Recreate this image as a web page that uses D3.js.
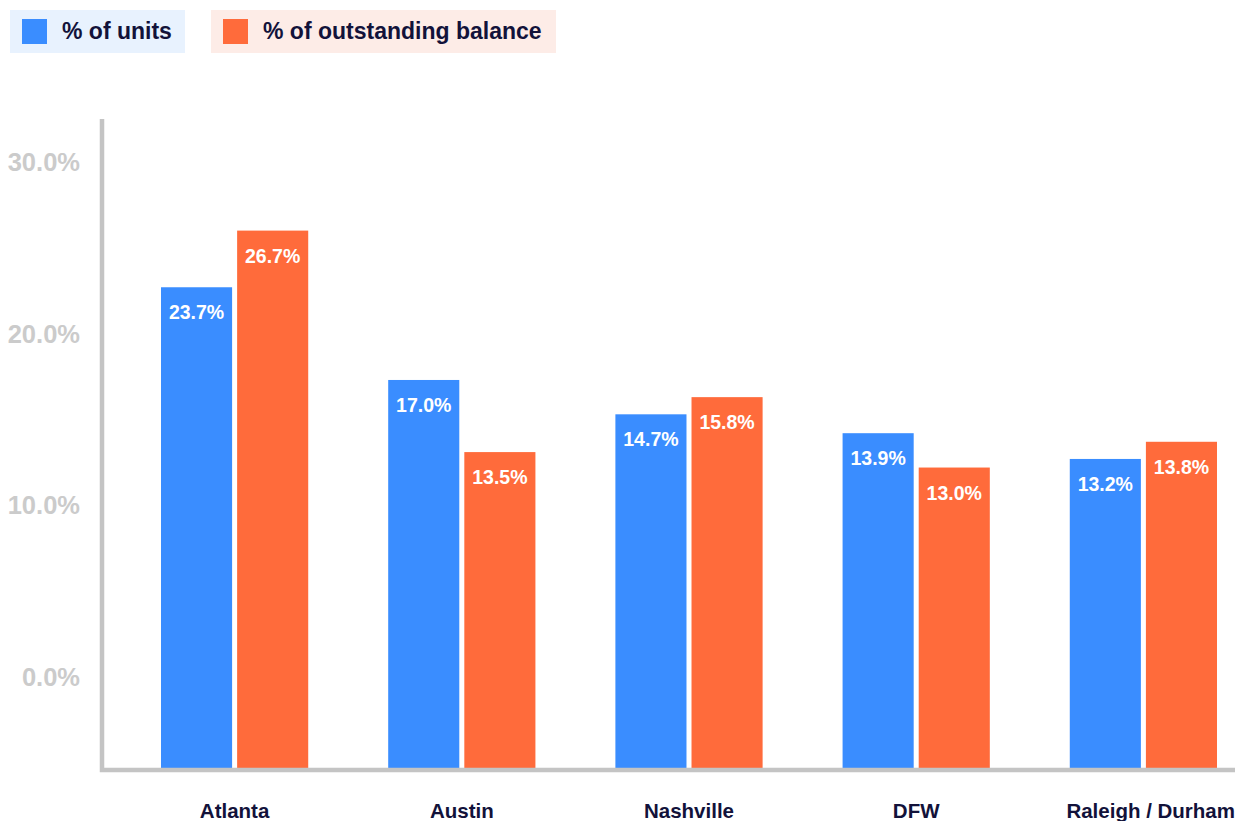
<!DOCTYPE html>
<html>
<head>
<meta charset="utf-8">
<script src="https://cdn.jsdelivr.net/npm/d3@7"></script>
<style>
  html, body { margin: 0; padding: 0; background: #fff; }
  svg { display: block; font-family: 'Liberation Sans', Arial, sans-serif; }
</style>
</head>
<body>
<div id="bar-chart"></div>
<script>
// Data
const cities = ['Atlanta', 'Austin', 'Nashville', 'DFW', 'Raleigh / Durham'];
const seriesNames = ['% of units', '% of outstanding balance'];
// bar heights as drawn, read against the y axis
const unitsBars = [22.7, 17.3, 15.3, 14.2, 12.7];
const balanceBars = [26.0, 13.1, 16.3, 12.2, 13.7];
// value labels as printed on the bars
const unitsLabels = ['23.7%', '17.0%', '14.7%', '13.9%', '13.2%'];
const balanceLabels = ['26.7%', '13.5%', '15.8%', '13.0%', '13.8%'];
const yTicks = [0, 10, 20, 30];

// Dimensions
const WIDTH = 1235;
const HEIGHT = 821;
const PLOT = { LEFT: 102, RIGHT: 1235, TOP: 119, BOTTOM: 770 };

const COLORS = ['#3a8dff', '#ff6b3b'];
const LEGEND_BG = ['#e8f2fe', '#fdece7'];
const INK = '#12123a';

const svg = d3
  .select('#bar-chart')
  .append('svg')
  .attr('width', WIDTH)
  .attr('height', HEIGHT);

// Scales
const y = d3.scaleLinear().domain([-5.3, 32.5]).range([768, PLOT.TOP]);

const x0 = d3
  .scaleBand()
  .domain(cities)
  .range([161, 1217])
  .paddingInner(0.352)
  .paddingOuter(0);

const x1 = d3
  .scaleBand()
  .domain([0, 1])
  .range([0, x0.bandwidth()])
  .paddingInner(0.066);

const rows = cities.map((c, i) => ({
  city: c,
  vals: [
    { s: 0, v: unitsBars[i], label: unitsLabels[i] },
    { s: 1, v: balanceBars[i], label: balanceLabels[i] },
  ],
}));

// Y axis labels
svg
  .append('g')
  .selectAll('text')
  .data(yTicks)
  .join('text')
  .attr('x', 80)
  .attr('y', (d) => y(d))
  .attr('dy', '0.36em')
  .attr('text-anchor', 'end')
  .attr('fill', '#cbcbcb')
  .attr('font-size', 25.5)
  .attr('font-weight', 'bold')
  .text((d) => d3.format('.1f')(d) + '%');

// Bars
const groups = svg
  .append('g')
  .selectAll('g')
  .data(rows)
  .join('g')
  .attr('transform', (d) => `translate(${x0(d.city)},0)`);

groups
  .selectAll('rect')
  .data((d) => d.vals)
  .join('rect')
  .attr('x', (d) => x1(d.s))
  .attr('y', (d) => y(d.v))
  .attr('width', x1.bandwidth())
  .attr('height', (d) => y.range()[0] - y(d.v))
  .attr('fill', (d) => COLORS[d.s]);

groups
  .selectAll('text')
  .data((d) => d.vals)
  .join('text')
  .attr('x', (d) => x1(d.s) + x1.bandwidth() / 2)
  .attr('y', (d) => y(d.v) + 32)
  .attr('text-anchor', 'middle')
  .attr('fill', '#fff')
  .attr('font-size', 19.5)
  .attr('font-weight', 'bold')
  .text((d) => d.label);

// Axis lines
svg
  .append('path')
  .attr('d', `M${PLOT.LEFT},${PLOT.TOP} V${PLOT.BOTTOM} H${PLOT.RIGHT}`)
  .attr('fill', 'none')
  .attr('stroke', '#c4c4c4')
  .attr('stroke-width', 4.5);

// Category labels (last one sits against the right edge)
svg
  .append('g')
  .selectAll('text')
  .data(cities)
  .join('text')
  .attr('x', (d, i) =>
    i === cities.length - 1 ? WIDTH : x0(d) + x0.bandwidth() / 2
  )
  .attr('y', 818)
  .attr('text-anchor', (d, i) => (i === cities.length - 1 ? 'end' : 'middle'))
  .attr('fill', INK)
  .attr('font-size', 20.5)
  .attr('font-weight', 'bold')
  .text((d) => d);

// Legend
const legendBoxes = [
  { x: 10, w: 175 },
  { x: 211, w: 345 },
];
const legend = svg
  .append('g')
  .selectAll('g')
  .data(seriesNames)
  .join('g')
  .attr('transform', (d, i) => `translate(${legendBoxes[i].x},10)`);

legend
  .append('rect')
  .attr('width', (d, i) => legendBoxes[i].w)
  .attr('height', 43)
  .attr('fill', (d, i) => LEGEND_BG[i]);

legend
  .append('rect')
  .attr('x', 12)
  .attr('y', 9)
  .attr('width', 25)
  .attr('height', 25)
  .attr('fill', (d, i) => COLORS[i]);

legend
  .append('text')
  .attr('x', 52)
  .attr('y', 29)
  .attr('fill', INK)
  .attr('font-size', 23)
  .attr('font-weight', 'bold')
  .text((d) => d);
</script>
</body>
</html>
